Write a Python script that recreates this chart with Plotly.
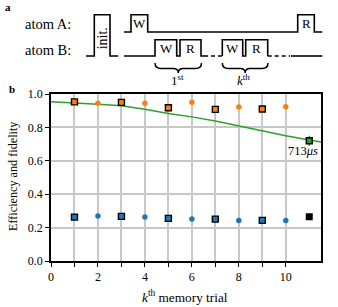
import plotly.graph_objects as go

# ---------------- data (panel b) ----------------
odd_trials = [1, 3, 5, 7, 9]
even_trials = [2, 4, 6, 8, 10]
fid_odd = [0.953, 0.950, 0.918, 0.908, 0.910]
fid_even = [0.944, 0.944, 0.950, 0.922, 0.923]
eff_odd = [0.263, 0.267, 0.255, 0.251, 0.243]
eff_even = [0.269, 0.263, 0.251, 0.243, 0.243]
ref_x = [11]
ref_eff = [0.265]
ref_fid = [0.720]
ref_fid_err = [0.03]
fit_x = [0, 1, 2, 3, 4, 5, 6, 7, 8, 9, 10, 11, 11.5]
fit_y = [0.953, 0.947, 0.939, 0.929, 0.909, 0.883, 0.863, 0.838, 0.808, 0.778, 0.750, 0.724, 0.712]
x_major_ticks = [0, 2, 4, 6, 8, 10]
x_major_labels = ["0", "2", "4", "6", "8", "10"]
x_minor_ticks = [1, 3, 5, 7, 9]
y_ticks = [0.0, 0.2, 0.4, 0.6, 0.8, 1.0]
y_ticklabels = ["0.0", "0.2", "0.4", "0.6", "0.8", "1.0"]

# ---------------- schematic (panel a), pixel coords ----------------
atomA_x = [124, 131, 131, 147.7, 147.7, 297.7, 297.7, 314.3, 314.3, 322.3]
atomA_y = [32, 32, 14.7, 14.7, 32, 32, 14.7, 14.7, 32, 32]
init_x = [86, 94.3, 94.3, 110, 110, 118.3]
init_y = [56, 56, 14.7, 14.7, 56, 56]
atomB1_x = [124, 155, 155, 176.7, 176.7, 180, 180, 201, 201, 204]
atomB1_y = [56, 56, 39.7, 39.7, 56, 56, 39.7, 39.7, 56, 56]
atomBk_x = [222.3, 222.3, 242.7, 242.7, 245.7, 245.7, 267.7, 267.7]
atomBk_y = [56, 39.7, 39.7, 56, 56, 39.7, 39.7, 56]
dash1_x = [204, 222.3]
dash2_x = [267.7, 290]
tail_x = [291, 322.3]
B_level = 56

W_ = 338
H_ = 307
FONT = "Liberation Serif"
ORANGE = "#ff7f0e"
BLUE = "#1f77b4"
GREEN = "#2ca02c"

fig = go.Figure()

# ---- panel b traces ----
fig.add_trace(go.Scatter(x=fit_x, y=fit_y, mode="lines",
                         line=dict(color=GREEN, width=1.5), xaxis="x", yaxis="y"))
fig.add_trace(go.Scatter(x=even_trials, y=fid_even, mode="markers",
                         marker=dict(color=ORANGE, size=5.5, symbol="circle"), xaxis="x", yaxis="y"))
fig.add_trace(go.Scatter(x=odd_trials, y=fid_odd, mode="markers",
                         marker=dict(color=ORANGE, size=6, symbol="square",
                                     line=dict(color="black", width=1.4)), xaxis="x", yaxis="y"))
fig.add_trace(go.Scatter(x=even_trials, y=eff_even, mode="markers",
                         marker=dict(color=BLUE, size=5.5, symbol="circle"), xaxis="x", yaxis="y"))
fig.add_trace(go.Scatter(x=odd_trials, y=eff_odd, mode="markers",
                         marker=dict(color=BLUE, size=6, symbol="square",
                                     line=dict(color="black", width=1.4)), xaxis="x", yaxis="y"))
fig.add_trace(go.Scatter(x=ref_x, y=ref_eff, mode="markers",
                         marker=dict(color="black", size=7, symbol="square"), xaxis="x", yaxis="y"))
fig.add_trace(go.Scatter(x=ref_x, y=ref_fid, mode="markers",
                         error_y=dict(type="data", array=ref_fid_err, color=GREEN, thickness=1.5, width=0),
                         marker=dict(color=GREEN, size=6, symbol="square",
                                     line=dict(color="black", width=1.4)), xaxis="x", yaxis="y"))

# ---- panel a traces (pixel axes x2/y2) ----
line_kw = dict(color="black", width=1.6)
for xs, ys in [(atomA_x, atomA_y), (init_x, init_y), (atomB1_x, atomB1_y),
               (atomBk_x, atomBk_y), (tail_x, [B_level, B_level])]:
    fig.add_trace(go.Scatter(x=xs, y=ys, mode="lines", line=line_kw,
                             xaxis="x2", yaxis="y2"))
for xs in [dash1_x, dash2_x]:
    fig.add_trace(go.Scatter(x=xs, y=[B_level, B_level], mode="lines",
                             line=dict(color="black", width=1.6, dash="4px,3px"),
                             xaxis="x2", yaxis="y2"))

shapes = []
def brace(x1, x2, y0=63, y1=73):
    m = (x1 + x2) / 2
    ym = (y0 + y1) / 2 + 0.5
    return (f"M {x1},{y0} Q {x1},{ym} {x1+6},{ym} L {m-5},{ym} "
            f"Q {m},{ym} {m},{y1} Q {m},{ym} {m+5},{ym} L {x2-6},{ym} Q {x2},{ym} {x2},{y0}")
for (a, b) in [(155, 201.5), (222.3, 268)]:
    shapes.append(dict(type="path", path=brace(a, b), xref="x2", yref="y2",
                       line=dict(color="black", width=1.5)))

annotations = []
def txt(x, y, s, size=11, angle=0, **kw):
    annotations.append(dict(x=x, y=y, xref="x2", yref="y2", text=s,
                            showarrow=False, textangle=angle,
                            font=dict(family=FONT, size=size, color="black"), **kw))

txt(8, 7, "<b>a</b>", size=11)
txt(12, 89, "<b>b</b>", size=11)
txt(72.5, 24, "atom A:", size=14.5, xanchor="right")
txt(72.5, 50, "atom B:", size=14.5, xanchor="right")
txt(102.3, 38, "init.", size=14, angle=-90)
txt(139.5, 23, "W", size=13)
txt(306, 23, "R", size=13)
txt(166, 48, "W", size=13)
txt(190.5, 48, "R", size=13)
txt(232.5, 48, "W", size=13)
txt(256.7, 48, "R", size=13)
txt(177, 80, "1<sup>st</sup>", size=13)
txt(243, 80, "<i>k</i><sup>th</sup>", size=13)
txt(13, 176, "Efficiency and fidelity", size=12.2, angle=-90)
txt(185, 296, "<i>k</i><sup>th</sup> memory trial", size=13.3)
# label on the reference point
annotations.append(dict(x=10.72, y=0.658, xref="x", yref="y", text="713<i>μs</i>",
                        showarrow=False, font=dict(family=FONT, size=12.5, color="black")))

x0p, x1p = 51, 321
ytop, ybot = 94, 261
axis_common = dict(showline=True, linecolor="black", linewidth=1.5, mirror=True,
                   ticks="outside", ticklen=4, tickwidth=1.2, tickcolor="black",
                   showgrid=True, gridcolor="#c8c8c8", gridwidth=1.5, zeroline=False,
                   tickfont=dict(family=FONT, size=12, color="black"), automargin=False)

fig.update_layout(
    width=W_, height=H_, margin=dict(l=0, r=0, t=0, b=0),
    paper_bgcolor="white", plot_bgcolor="rgba(0,0,0,0)", showlegend=False,
    xaxis=dict(domain=[x0p / W_, x1p / W_], range=[0, 11.5],
               tickmode="array", tickvals=x_major_ticks, ticktext=x_major_labels,
               minor=dict(tickmode="array", tickvals=x_minor_ticks, ticks="outside",
                          ticklen=4, tickwidth=1.2, tickcolor="black",
                          showgrid=True, gridcolor="#c8c8c8", gridwidth=1.5),
               **axis_common),
    yaxis=dict(domain=[(H_ - ybot) / H_, (H_ - ytop) / H_], range=[0, 1.0],
               tickmode="array", tickvals=y_ticks, ticktext=y_ticklabels, **axis_common),
    xaxis2=dict(domain=[0, 1], range=[0, W_], visible=False, anchor="y2"),
    yaxis2=dict(domain=[0, 1], range=[H_, 0], visible=False, anchor="x2"),
    shapes=shapes, annotations=annotations,
)

fig.write_html("out.html", config={"displayModeBar": False},
               post_script="document.body.style.margin='0px';")
